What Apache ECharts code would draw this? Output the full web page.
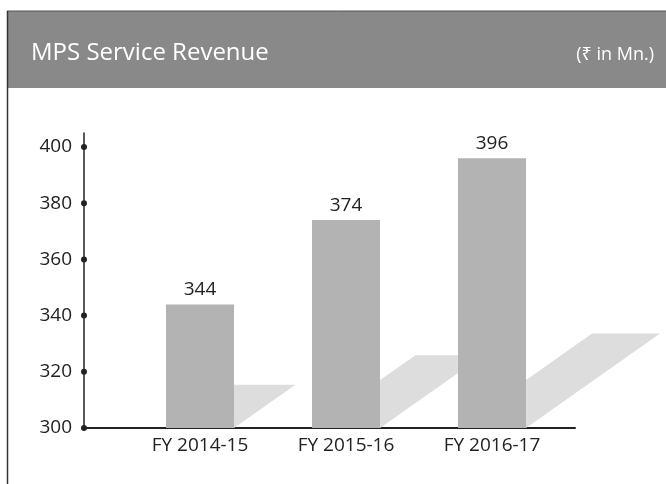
<!DOCTYPE html>
<html>
<head>
<meta charset="utf-8">
<script src="https://cdn.jsdelivr.net/npm/echarts@6/dist/echarts.min.js"></script>
<style>
  html, body { margin: 0; padding: 0; background: #fff; }
  #chart { width: 666px; height: 484px; }
</style>
</head>
<body>
<div id="chart"></div>
<script>
// data
var categories = ['FY 2014-15', 'FY 2015-16', 'FY 2016-17'];
var revenue = [344, 374, 396];
var yTicks = [300, 320, 340, 360, 380, 400];

var FONT = "'Open Sans', 'Noto Sans', sans-serif";
var BAR_W = 68;

var chart = echarts.init(document.getElementById('chart'));

// grid 0 carries the axis lines, grid 1 carries the bars
var option = {
  animation: false,
  textStyle: { fontFamily: FONT },
  title: [
    {
      text: 'MPS Service Revenue',
      left: 26, top: 36,
      textStyle: { color: '#fff', fontSize: 24, fontWeight: 'normal', fontFamily: FONT }
    },
    {
      text: '(₹ in Mn.)',
      right: 7, top: 41,
      textStyle: { color: '#fff', fontSize: 18, fontWeight: 'normal', fontFamily: FONT }
    }
  ],
  graphic: [
    { type: 'rect', shape: { x: 8, y: 11, width: 666, height: 77 }, style: { fill: '#898989' }, z: -1 },
    { type: 'line', shape: { x1: 7, y1: 11, x2: 666, y2: 11 }, style: { stroke: '#555', lineWidth: 1 } },
    { type: 'line', shape: { x1: 7.5, y1: 11, x2: 7.5, y2: 484 }, style: { stroke: '#333', lineWidth: 1.5 } }
  ],
  grid: [
    { left: 84, top: 133, width: 491, height: 295 },
    { left: 127, top: 133, width: 438, height: 295 }
  ],
  xAxis: [
    {
      gridIndex: 0, type: 'value', min: 0, max: 1,
      axisLine: { show: true, lineStyle: { color: '#222', width: 2 } },
      axisTick: { show: false }, axisLabel: { show: false }, splitLine: { show: false }
    },
    {
      gridIndex: 1, type: 'category', data: categories,
      axisLine: { show: false }, axisTick: { show: false },
      axisLabel: { color: '#222', fontSize: 19, margin: 8, fontFamily: FONT }
    }
  ],
  yAxis: [
    {
      gridIndex: 0, type: 'value', min: 300, max: 405, interval: 20,
      axisLine: { show: true, lineStyle: { color: '#222', width: 1.5 } },
      axisTick: { show: false }, splitLine: { show: false },
      axisLabel: { color: '#222', fontSize: 19, margin: 12, showMaxLabel: false, fontFamily: FONT }
    },
    {
      gridIndex: 1, type: 'value', min: 300, max: 405, show: false, splitLine: { show: false }
    }
  ],
  series: [
    {
      // tick dots on the y axis
      type: 'custom', xAxisIndex: 0, yAxisIndex: 0,
      data: yTicks,
      renderItem: function (params, api) {
        var p = api.coord([0, api.value(0)]);
        return { type: 'circle', shape: { cx: p[0], cy: p[1], r: 3 }, style: { fill: '#222' } };
      },
      encode: { y: 0 },
      z: 5
    },
    {
      // slanted shadows behind the bars
      type: 'custom', xAxisIndex: 1, yAxisIndex: 1,
      data: revenue.map(function (v, i) { return [i, v]; }),
      renderItem: function (params, api) {
        var base = api.coord([api.value(0), 300]);
        var top = api.coord([api.value(0), api.value(1)]);
        var h = (base[1] - top[1]) * 0.35;
        var s = h * 1.42;
        var x0 = base[0] - BAR_W / 2, x1 = base[0] + BAR_W / 2, y = base[1];
        return {
          type: 'polygon',
          shape: { points: [[x0, y], [x1, y], [x1 + s, y - h], [x0 + s, y - h]] },
          style: { fill: '#dcdddc' }
        };
      },
      z: 1
    },
    {
      type: 'bar', xAxisIndex: 1, yAxisIndex: 1,
      data: revenue,
      barWidth: BAR_W,
      itemStyle: { color: '#b3b3b3' },
      label: { show: true, position: 'top', distance: 5, color: '#222', fontSize: 19, fontFamily: FONT },
      z: 3
    }
  ]
};

chart.setOption(option);
</script>
</body>
</html>
